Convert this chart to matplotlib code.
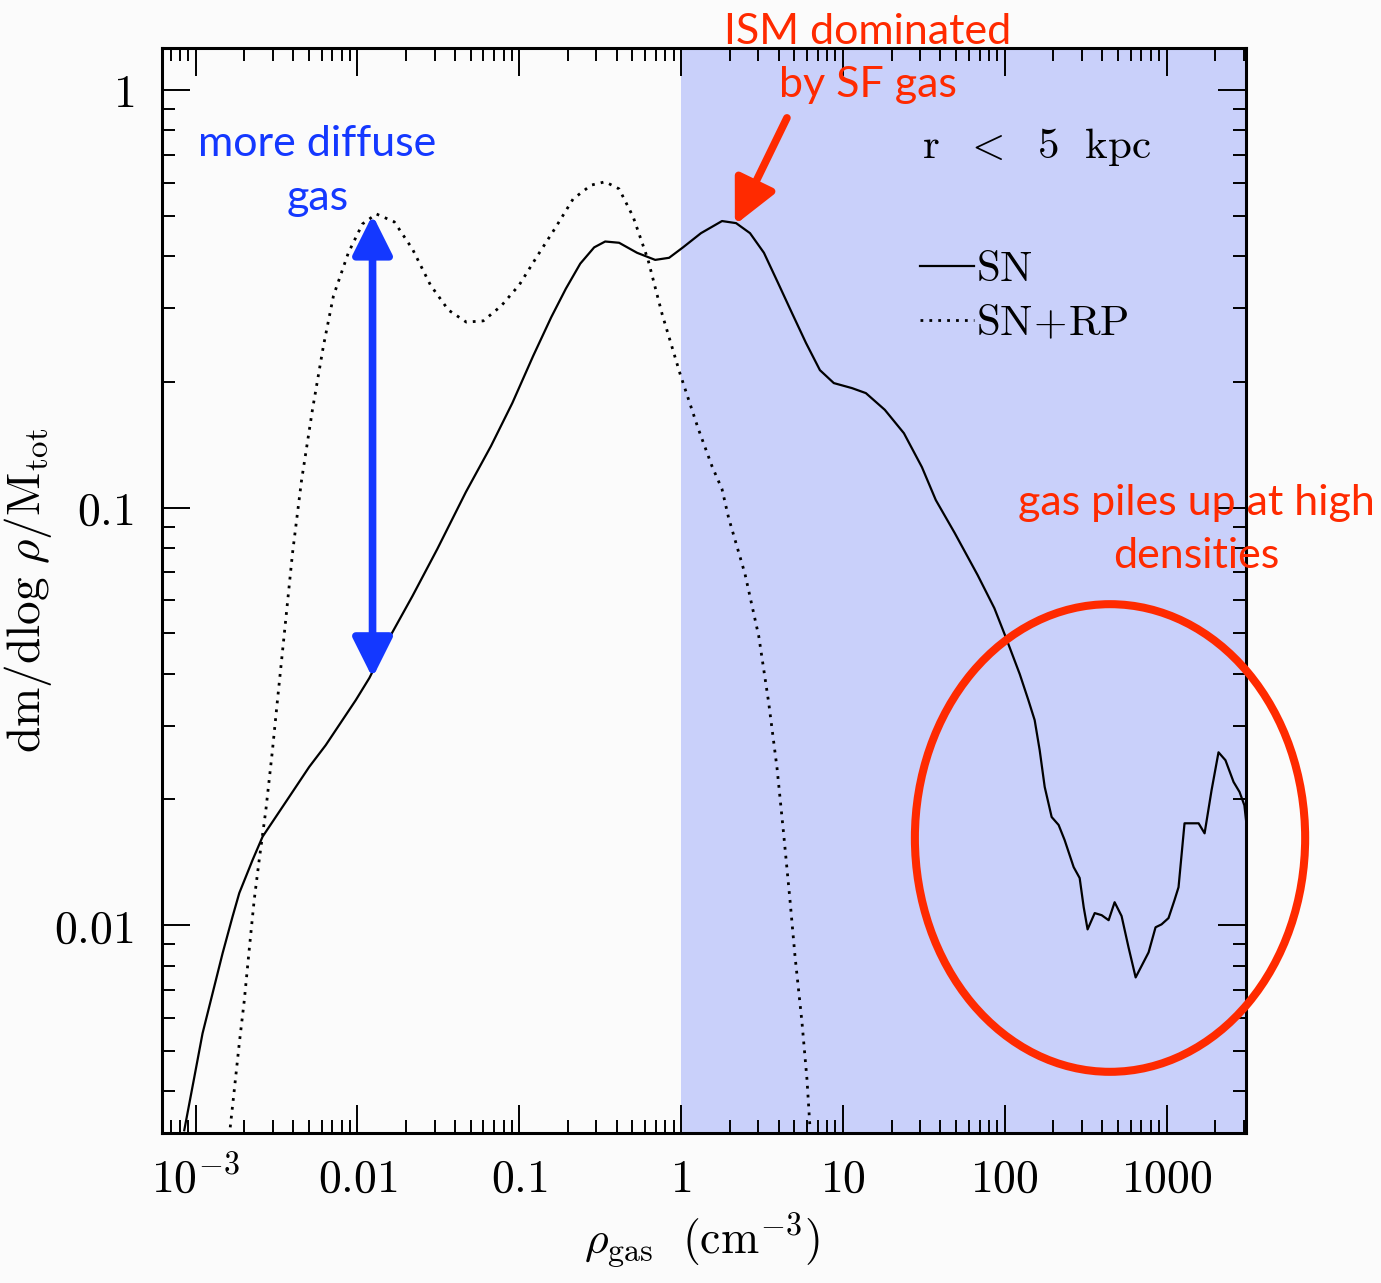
import numpy as np
import matplotlib
matplotlib.use('Agg')
import matplotlib.pyplot as plt
from matplotlib.ticker import FixedLocator, FixedFormatter, LogLocator, NullFormatter
from matplotlib.patches import Ellipse

plt.rcParams['mathtext.fontset'] = 'cm'

# log10(rho_gas) and log10(dm/dlog rho / Mtot)
sn_log_rho = [-3.070, -3.008, -2.957, -2.895, -2.833, -2.772, -2.730, -2.648, -2.586, -2.422,
              -2.298, -2.196, -2.134, -2.010, -1.926, -1.793, -1.660, -1.506, -1.330, -1.175,
              -1.043, -0.914, -0.802, -0.712, -0.623, -0.537, -0.469, -0.383, -0.272, -0.160,
              -0.074, 0.012, 0.123, 0.253, 0.340, 0.426, 0.512, 0.599, 0.685, 0.772,
              0.858, 0.944, 1.056, 1.142, 1.259, 1.377, 1.488, 1.574, 1.691, 1.833,
              1.936, 2.006, 2.093, 2.146, 2.185, 2.216, 2.247, 2.290, 2.333, 2.370,
              2.426, 2.463, 2.488, 2.512, 2.556, 2.599, 2.642, 2.679, 2.722, 2.765,
              2.809, 2.889, 2.932, 2.969, 3.012, 3.049, 3.074, 3.111, 3.198, 3.235,
              3.278, 3.321, 3.364, 3.414, 3.451, 3.481, 3.500]
sn_log_frac = [-2.491, -2.364, -2.259, -2.163, -2.067, -1.980, -1.923, -1.844, -1.788, -1.693,
               -1.621, -1.569, -1.533, -1.461, -1.408, -1.305, -1.212, -1.099, -0.963, -0.853,
               -0.750, -0.637, -0.544, -0.476, -0.416, -0.377, -0.363, -0.366, -0.390, -0.407,
               -0.402, -0.377, -0.343, -0.314, -0.319, -0.343, -0.390, -0.462, -0.534, -0.606,
               -0.671, -0.702, -0.714, -0.726, -0.766, -0.822, -0.903, -0.982, -1.061, -1.162,
               -1.241, -1.310, -1.399, -1.461, -1.509, -1.581, -1.669, -1.741, -1.760, -1.796,
               -1.861, -1.887, -1.957, -2.010, -1.971, -1.976, -1.988, -1.945, -1.978, -2.053,
               -2.125, -2.065, -2.005, -1.998, -1.983, -1.940, -1.909, -1.756, -1.756, -1.780,
               -1.677, -1.586, -1.605, -1.657, -1.681, -1.713, -1.780]

rp_log_rho = [-2.786, -2.761, -2.730, -2.699, -2.669, -2.638, -2.607, -2.566, -2.525, -2.494,
              -2.457, -2.401, -2.346, -2.278, -2.210, -2.148, -2.056, -1.969, -1.883, -1.772,
              -1.660, -1.549, -1.438, -1.327, -1.222, -1.111, -1.000, -0.889, -0.778, -0.667,
              -0.556, -0.469, -0.383, -0.296, -0.204, -0.117, -0.006, 0.105, 0.191, 0.253,
              0.294, 0.395, 0.480, 0.541, 0.593, 0.634, 0.673, 0.704, 0.747, 0.778, 0.796]
rp_log_frac = [-2.484, -2.395, -2.283, -2.180, -2.060, -1.940, -1.844, -1.725, -1.581, -1.461,
               -1.322, -1.109, -0.937, -0.766, -0.613, -0.493, -0.390, -0.321, -0.297, -0.316,
               -0.381, -0.467, -0.527, -0.556, -0.553, -0.517, -0.467, -0.398, -0.331, -0.261,
               -0.228, -0.220, -0.237, -0.304, -0.407, -0.537, -0.680, -0.810, -0.901, -0.956,
               -1.025, -1.159, -1.308, -1.466, -1.624, -1.782, -1.940, -2.074, -2.232, -2.369, -2.481]

x_ticks = [1e-3, 1e-2, 1e-1, 1, 10, 100, 1000]
x_tick_labels = [r'$10^{-3}$', r'$0.01$', r'$0.1$', r'$1$', r'$10$', r'$100$', r'$1000$']
y_ticks = [0.01, 0.1, 1]
y_tick_labels = [r'$0.01$', r'$0.1$', r'$1$']

red = '#ff2a00'
blue = '#1438ff'
bg = '#fbfbfb'

fig = plt.figure(figsize=(13.81, 12.83), dpi=100, facecolor=bg)
ax = fig.add_axes([0.1173, 0.1169, 0.785, 0.8457])
ax.set_facecolor(bg)

ax.axvspan(1, 1e4, color='#c9d0fa', zorder=0, lw=0)

ax.plot(10 ** np.array(sn_log_rho), 10 ** np.array(sn_log_frac), color='black', lw=1.6,
        solid_joinstyle='round', label=r'$\mathrm{SN}$')
ax.plot(10 ** np.array(rp_log_rho), 10 ** np.array(rp_log_frac), color='black', lw=2.0,
        linestyle=(0, (1, 2.2)), label=r'$\mathrm{SN\!+\!RP}$')

ax.set_xscale('log')
ax.set_yscale('log')
ax.set_xlim(6.2e-4, 3100)
ax.set_ylim(3.18e-3, 1.26)

ax.xaxis.set_major_locator(FixedLocator(x_ticks))
ax.xaxis.set_major_formatter(FixedFormatter(x_tick_labels))
ax.yaxis.set_major_locator(FixedLocator(y_ticks))
ax.yaxis.set_major_formatter(FixedFormatter(y_tick_labels))
for axis in (ax.xaxis, ax.yaxis):
    axis.set_minor_locator(LogLocator(base=10, subs=np.arange(2, 10), numticks=100))
    axis.set_minor_formatter(NullFormatter())

ax.tick_params(which='both', direction='in', top=True, right=True, width=1.4, labelsize=33)
ax.tick_params(which='major', length=20)
ax.tick_params(which='minor', length=9.5)
ax.tick_params(axis='x', pad=17)
ax.tick_params(axis='y', pad=20)
for s in ax.spines.values():
    s.set_linewidth(2.2)

ax.set_xlabel(r'$\rho_{\mathrm{gas}}\ \ (\mathrm{cm}^{-3})$', fontsize=33)
ax.set_ylabel(r'$\mathrm{dm/dlog}\ \rho/\mathrm{M_{tot}}$', fontsize=34)
ax.xaxis.set_label_coords(0.498, -0.072)
ax.yaxis.set_label_coords(-0.10, 0.5)

ax.legend(loc='upper left', bbox_to_anchor=(0.699, 0.816), frameon=False, fontsize=31,
          handlelength=1.25, handletextpad=0.05, labelspacing=0.3, borderpad=0, borderaxespad=0)

ax.text(30.7, 0.73, r'$\mathrm{r\ \ <\ \ 5\ \ kpc}$', fontsize=31, ha='left', va='center')

ann = dict(family='Lato', fontsize=31, ha='center', va='center', linespacing=1.5)
ax.text(5.66e-3, 0.64, 'more diffuse\ngas', color=blue, **ann)
ax.text(14.3, 1.19, 'ISM dominated\nby SF gas', color=red, clip_on=False, **ann)
ax.text(1531, 0.0885, 'gas piles up at high\ndensities', color=red, clip_on=False, **ann)

ax.annotate('', xy=(0.0124, 0.502), xytext=(0.0124, 0.0391),
            arrowprops=dict(arrowstyle='<|-|>,head_length=0.4,head_width=0.2', lw=5.5,
                            color=blue, mutation_scale=60, shrinkA=0, shrinkB=0))
ax.annotate('', xy=(2.15, 0.475), xytext=(4.51, 0.857),
            arrowprops=dict(arrowstyle='-|>,head_length=0.45,head_width=0.22', lw=5.5,
                            color=red, mutation_scale=60, shrinkA=0, shrinkB=0))

ax.add_patch(Ellipse((0.8745, 0.2719), 0.36, 0.431, transform=ax.transAxes, fill=False,
                     edgecolor=red, lw=5.8, clip_on=False, zorder=5))

fig.savefig('out.png', dpi=100, facecolor=bg)
